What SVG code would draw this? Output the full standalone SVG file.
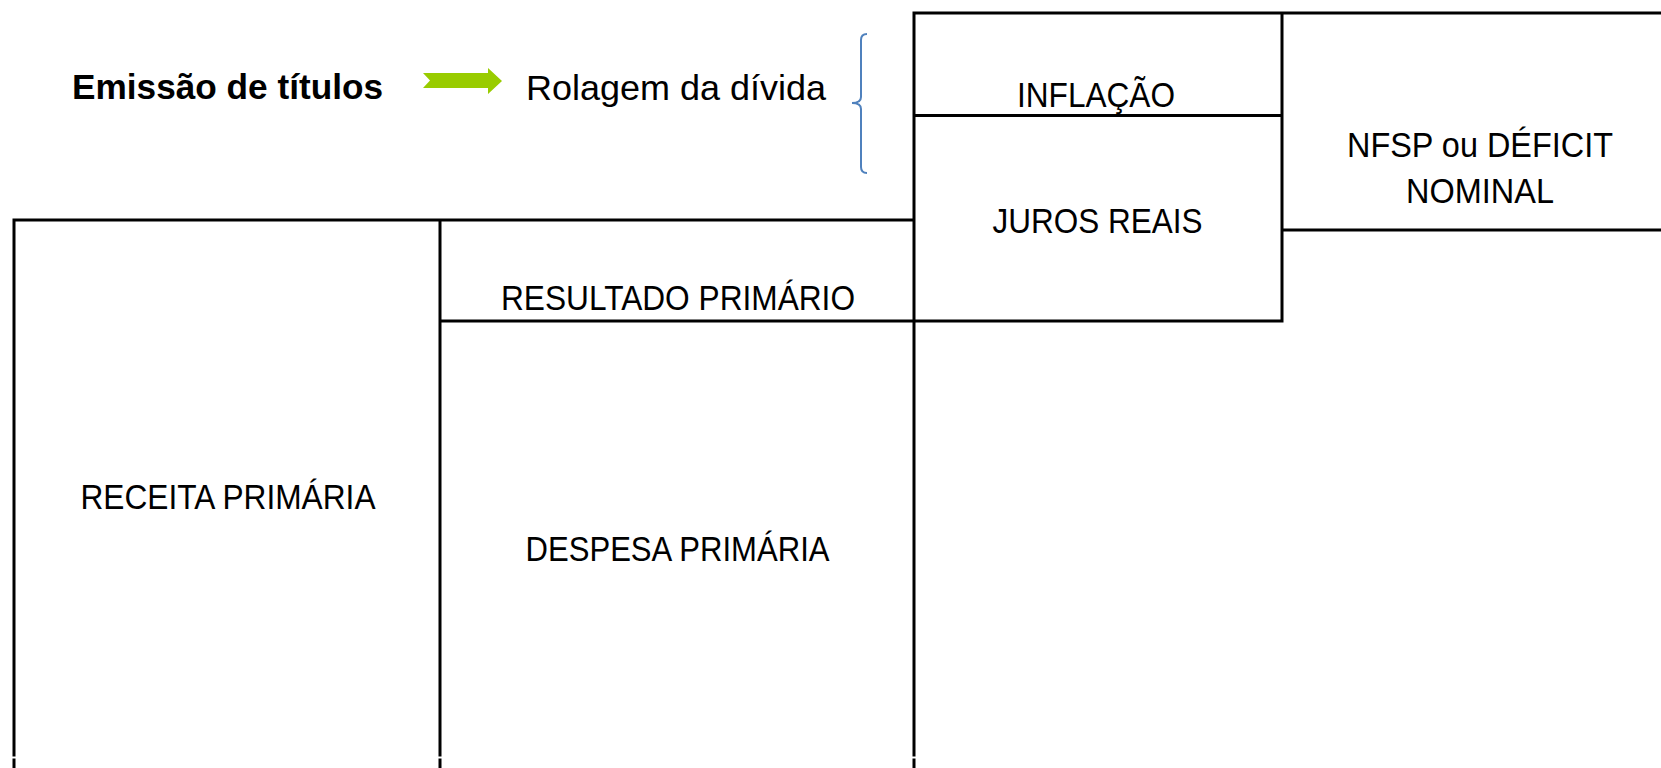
<svg xmlns="http://www.w3.org/2000/svg" width="1661" height="768" viewBox="0 0 1661 768">
<style>
.ln{stroke:#000;stroke-width:3;fill:none;stroke-linecap:square}
.t{font-family:"Liberation Sans",Arial,sans-serif;font-size:35px;fill:#000;text-anchor:middle}
.h{font-family:"Liberation Sans",Arial,sans-serif;font-size:35px;fill:#000}
</style>
<rect width="1661" height="768" fill="#fff"/>
<g id="connectors">
<path class="ln" d="M14,768 V220 H914 M440,220 V768 M914,768 V13 H1282 V321 H440 M914,115.5 H1282 M1282,230 H1661 M1282,13 H1661"/>
<g stroke="#fff" stroke-width="2"><path d="M8,757.5 H20 M434,757.5 H446 M908,757.5 H920"/></g>
</g>
<g id="header">
<text class="h" x="72" y="99" font-weight="bold" textLength="311" lengthAdjust="spacingAndGlyphs">Emissão de títulos</text>
<path d="M423,73 H488 V68 L502,81 L488,94 V88 H423 L430,80.5 Z" fill="#99cc00"/>
<text class="h" x="526" y="100" textLength="300" lengthAdjust="spacingAndGlyphs">Rolagem da dívida</text>
<path d="M867,34 Q861,34 861,40 V97 Q861,103 852,103 Q861,103 861,109 V167 Q861,173 867,173" fill="none" stroke="#4f81bd" stroke-width="2"/>
</g>
<g id="inflacao"><text class="t" x="1096" y="106.5" textLength="158" lengthAdjust="spacingAndGlyphs">INFLAÇÃO</text></g>
<g id="juros-reais"><text class="t" x="1097.5" y="233" textLength="210" lengthAdjust="spacingAndGlyphs">JUROS REAIS</text></g>
<g id="nfsp"><text class="t" x="1480" y="157" textLength="266" lengthAdjust="spacingAndGlyphs">NFSP ou DÉFICIT</text><text class="t" x="1480" y="203" textLength="148" lengthAdjust="spacingAndGlyphs">NOMINAL</text></g>
<g id="resultado-primario"><text class="t" x="678" y="309.5" textLength="354" lengthAdjust="spacingAndGlyphs">RESULTADO PRIMÁRIO</text></g>
<g id="receita-primaria"><text class="t" x="228" y="509" textLength="295" lengthAdjust="spacingAndGlyphs">RECEITA PRIMÁRIA</text></g>
<g id="despesa-primaria"><text class="t" x="677.5" y="561" textLength="304" lengthAdjust="spacingAndGlyphs">DESPESA PRIMÁRIA</text></g>
</svg>
